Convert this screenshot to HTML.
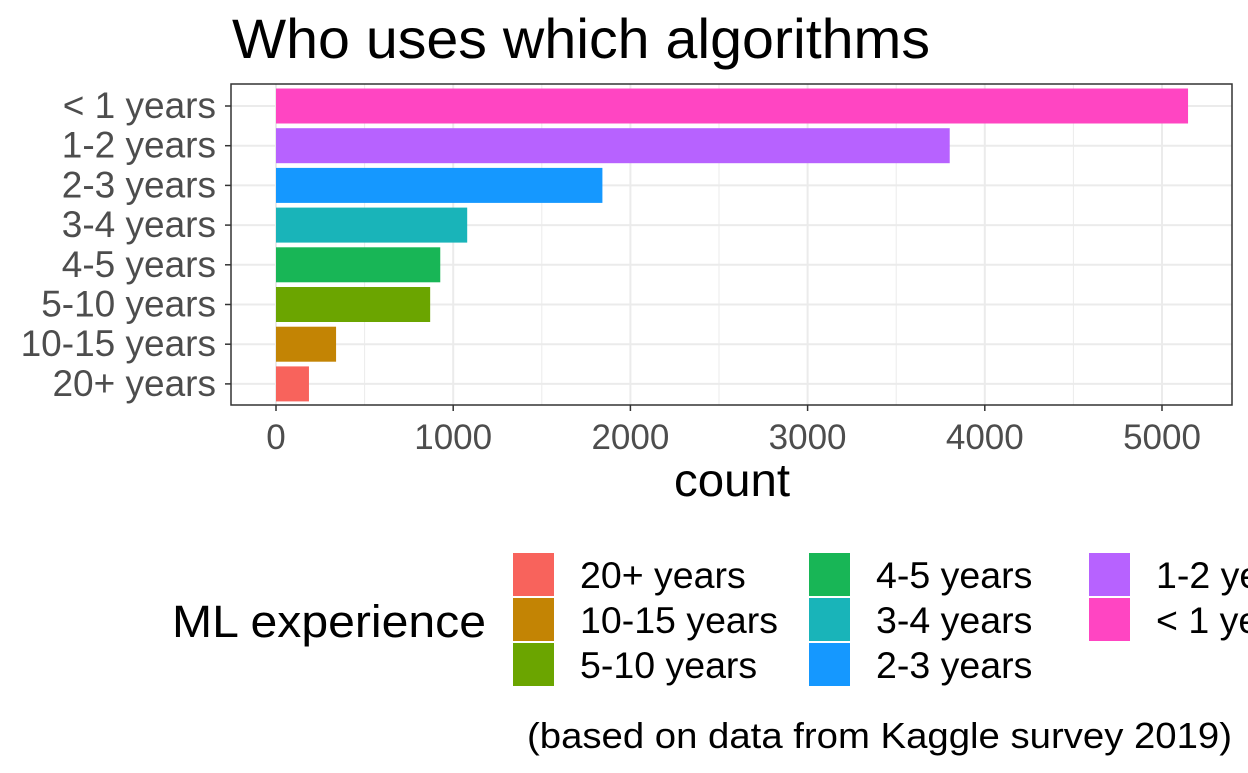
<!DOCTYPE html>
<html><head><meta charset="utf-8"><style>
body{margin:0;background:#fff;width:1248px;height:768px;overflow:hidden;font-family:"Liberation Sans",sans-serif}
</style></head><body>
<svg width="1248" height="768" style="font-family:'Liberation Sans',sans-serif">
<text x="232" y="58" font-size="56" textLength="698" lengthAdjust="spacingAndGlyphs" fill="#000">Who uses which algorithms</text>
<g id="grid"></g><g id="bars"></g><g id="axes"></g><g id="legend"></g>
<text x="732" y="496" font-size="46" text-anchor="middle" textLength="116" lengthAdjust="spacingAndGlyphs" fill="#000">count</text>
<text x="1232" y="748" font-size="36" text-anchor="end" textLength="705" lengthAdjust="spacingAndGlyphs" fill="#000">(based on data from Kaggle survey 2019)</text>
</svg>
<script>
const categories=["< 1 years","1-2 years","2-3 years","3-4 years","4-5 years","5-10 years","10-15 years","20+ years"];
const counts=[5147,3802,1842,1079,927,870,339,186];
const colors=["#FF45C2","#B762FF","#1598FF","#19B4B9","#18B656","#6BA500","#C38404","#F8635C"];
const xTicks=[0,1000,2000,3000,4000,5000];
const legendCats=["20+ years","10-15 years","5-10 years","4-5 years","3-4 years","2-3 years","1-2 years","< 1 years"];
const legendColors=["#F8635C","#C38404","#6BA500","#18B656","#19B4B9","#1598FF","#B762FF","#FF45C2"];
const NS="http://www.w3.org/2000/svg";
const L=231,R=1232,T=84,B=405;
const x=v=>276+v*0.1772;
const yc=i=>106+i*39.7;
function mk(p,tag,a){const e=document.createElementNS(NS,tag);for(const k in a)e.setAttribute(k,a[k]);document.getElementById(p).appendChild(e);return e;}
for(let i=0;i<xTicks.length;i++){
 const gx=x(xTicks[i]);
 let g=mk('grid','line',{x1:gx,x2:gx,y1:T,y2:B,stroke:'#EBEBEB','stroke-width':2});
 
 
 if(i<xTicks.length-1){const mx=x((xTicks[i]+xTicks[i+1])/2);
 let m=mk('grid','line',{x1:mx,x2:mx,y1:T,y2:B,stroke:'#EBEBEB','stroke-width':1});
 
 }
 let t=mk('axes','text',{x:gx,y:449,'font-size':35,'text-anchor':'middle',fill:'#4D4D4D'});
 t.textContent=xTicks[i];
 
 
 let tk=mk('axes','line',{x1:gx,x2:gx,y1:B,y2:B+6,stroke:'#333','stroke-width':1.5});
 
 
}
categories.forEach((c,i)=>{
 const cy=yc(i);
 let g=mk('grid','line',{x1:L,x2:R,y1:cy,y2:cy,stroke:'#EBEBEB','stroke-width':2});
 
 
 let b=mk('bars','rect',{x:x(0),y:cy-17.5,width:x(counts[i])-x(0),height:35,fill:colors[i]});
 
 
 let t=mk('axes','text',{x:216,y:cy+12,'font-size':37,'text-anchor':'end',fill:'#4D4D4D'});
 t.textContent=c;
 
 
 let tk=mk('axes','line',{x1:L-6,x2:L,y1:cy,y2:cy,stroke:'#333','stroke-width':1.5});
 
 
});
let fr=mk('axes','rect',{x:L,y:T,width:R-L,height:B-T,fill:'none',stroke:'#333','stroke-width':1.5});


let lt=mk('legend','text',{x:172,y:637,'font-size':45,fill:'#000',textLength:314,lengthAdjust:'spacingAndGlyphs'});
lt.textContent="ML experience";


const colX=[513,809,1089];
legendCats.forEach((c,i)=>{
 const col=Math.floor(i/3),row=i%3;
 const kx=colX[col],ky=553+row*45;
 let k=mk('legend','rect',{x:kx,y:ky,width:41,height:43,fill:legendColors[i]});
 
 
 let t=mk('legend','text',{x:kx+67,y:ky+35,'font-size':37.5,fill:'#000'});
 t.textContent=c;
 
 
});
</script>
</body></html>
